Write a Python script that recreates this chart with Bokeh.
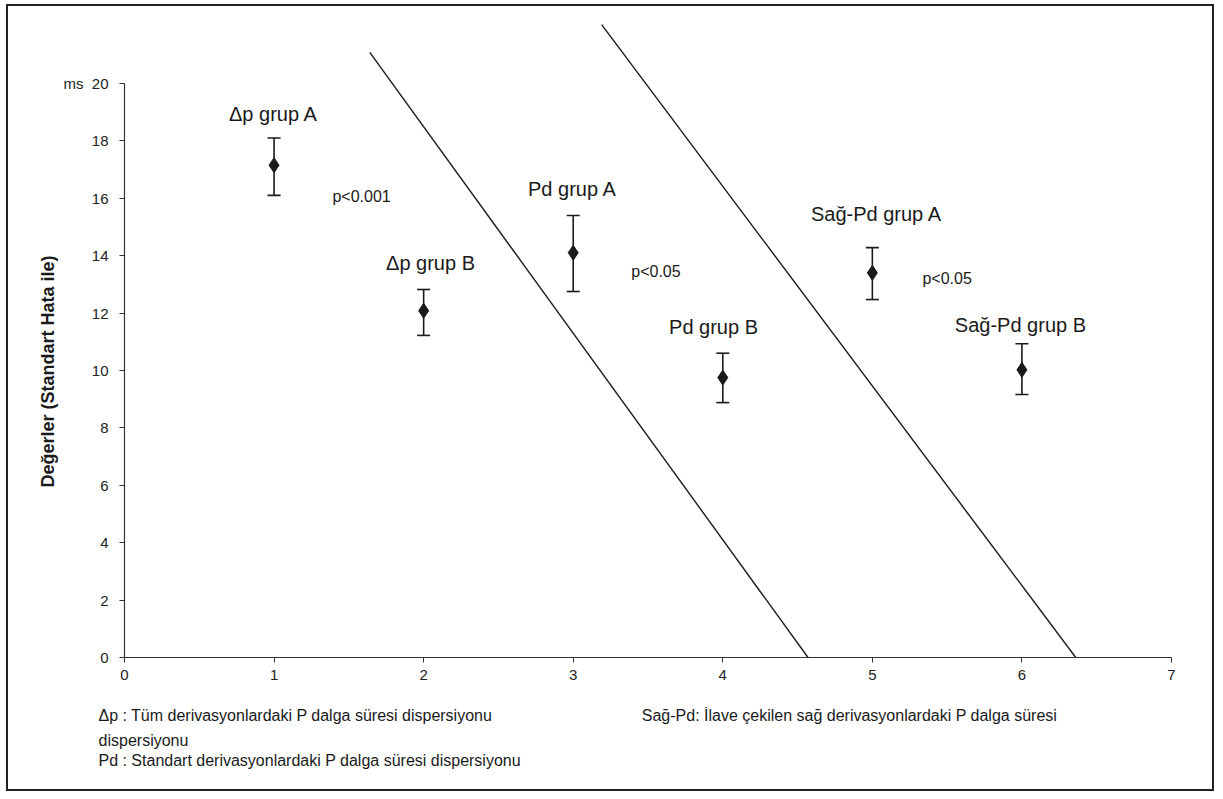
from bokeh.plotting import figure
from bokeh.models import (ColumnDataSource, Whisker, TeeHead, Label, Range1d,
                          LinearAxis, FixedTicker, Title)
from bokeh.embed import file_html
from bokeh.resources import INLINE

# ---- data ----
groups = ["Δp grup A", "Δp grup B", "Pd grup A", "Pd grup B", "Sağ-Pd grup A", "Sağ-Pd grup B"]
xs = [1, 2, 3, 4, 5, 6]
means = [17.15, 12.08, 14.1, 9.75, 13.4, 10.02]
upper = [18.1, 12.82, 15.4, 10.6, 14.28, 10.93]
lower = [16.1, 11.22, 12.75, 8.88, 12.47, 9.16]
label_x = [0.996, 2.046, 2.995, 3.938, 5.028, 5.99]
label_y = [18.95, 13.76, 16.31, 11.5, 15.44, 11.57]

pvals = ["p<0.001", "p<0.05", "p<0.05"]
p_x = [1.585, 3.553, 5.50]
p_y = [16.06, 13.45, 13.2]

line1_x = [1.64, 4.57]
line1_y = [21.08, 0.0]
line2_x = [3.19, 6.36]
line2_y = [22.05, 0.0]

x_ticks = [0, 1, 2, 3, 4, 5, 6, 7]
y_ticks = [0, 2, 4, 6, 8, 10, 12, 14, 16, 18, 20]
y_title = "Değerler (Standart Hata ile)"
y_unit = "ms"

notes_rows = [
    ["Δp : Tüm derivasyonlardaki P dalga süresi dispersiyonu",
     "Sağ-Pd: İlave çekilen sağ derivasyonlardaki P dalga süresi"],
    ["dispersiyonu"],
    ["Pd  : Standart derivasyonlardaki P dalga süresi dispersiyonu"],
]
notes_x = [[1.143, 4.847], [0.127], [1.253]]

FONT = "Liberation Sans"
INK = "#1a1a1a"

p = figure(width=1208, height=787, output_backend="svg", toolbar_location=None,
           x_range=Range1d(0, 7), y_range=Range1d(0, 22.4),
           min_border_left=116, min_border_right=45, min_border_top=8, min_border_bottom=136)
p.styles = {"border": "2px solid #222", "margin": "4px 0 0 6px"}
p.outline_line_color = None
p.xgrid.visible = False
p.ygrid.visible = False
p.background_fill_color = "white"
p.border_fill_color = "white"

for ax in (p.xaxis, p.yaxis):
    ax.axis_line_color = "#333"
    ax.axis_line_width = 1.2
    ax.major_tick_line_color = "#333"
    ax.major_tick_in = 0
    ax.major_tick_out = 5
    ax.minor_tick_line_color = None
    ax.major_label_text_font = FONT
    ax.major_label_text_font_size = "15px"
    ax.major_label_text_color = "#222"

p.xaxis.ticker = x_ticks
p.yaxis.ticker = y_ticks
p.xaxis.bounds = (0, 7)
p.yaxis.bounds = (0, 20)
p.yaxis.major_label_standoff = 11
p.xaxis.major_label_standoff = 7
p.yaxis.major_label_overrides = {20: y_unit + "\u00a0\u00a0" + "20"}

# y title, anchored at its lower end
p.add_layout(Title(text=y_title, align="left", offset=170, standoff=6,
                   text_font=FONT, text_font_size="18px", text_font_style="bold",
                   text_color=INK), "left")

# footnotes as label-only axes below the x axis
standoffs = [24, 5, 0]
for row, ticks, so in zip(notes_rows, notes_x, standoffs):
    ax = LinearAxis(ticker=FixedTicker(ticks=ticks))
    ax.axis_line_color = None
    ax.major_tick_line_color = None
    ax.minor_tick_line_color = None
    ax.major_tick_in = 0
    ax.major_tick_out = 0
    ax.major_label_standoff = so
    ax.major_label_text_font = FONT
    ax.major_label_text_font_size = "16px"
    ax.major_label_text_color = INK
    ax.major_label_overrides = {t: s for t, s in zip(ticks, row)}
    p.add_layout(ax, "below")

# diagonal lines
p.line(line1_x, line1_y, line_color=INK, line_width=1.4)
p.line(line2_x, line2_y, line_color=INK, line_width=1.4)

# error bars and means
src = ColumnDataSource(dict(x=xs, m=means, upper=upper, lower=lower))
w = Whisker(base="x", upper="upper", lower="lower", source=src, dimension="height",
            line_color=INK, line_width=1.6,
            upper_head=TeeHead(size=13, line_color=INK, line_width=1.6),
            lower_head=TeeHead(size=13, line_color=INK, line_width=1.6))
p.add_layout(w)
p.scatter("x", "m", source=src, marker="diamond", size=15, color=INK)

# group labels and p values
for t, lx, ly in zip(groups, label_x, label_y):
    p.add_layout(Label(x=lx, y=ly, text=t, text_align="center", text_baseline="middle",
                       text_font=FONT, text_font_size="20px", text_color=INK))
for t, lx, ly in zip(pvals, p_x, p_y):
    p.add_layout(Label(x=lx, y=ly, text=t, text_align="center", text_baseline="middle",
                       text_font=FONT, text_font_size="16px", text_color=INK))

open("out.html", "w").write(file_html(p, INLINE))
